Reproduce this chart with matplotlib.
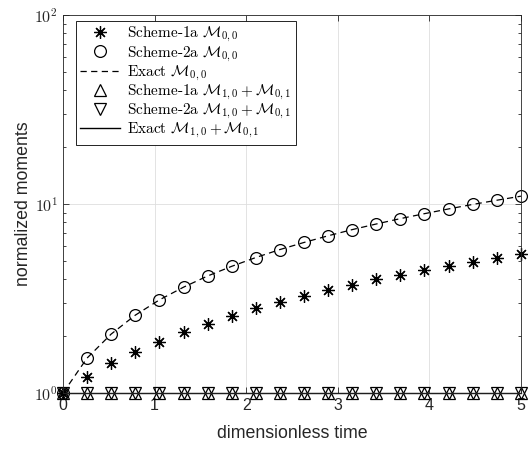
import numpy as np
import matplotlib
matplotlib.use('Agg')
import matplotlib.pyplot as plt
from matplotlib.ticker import FixedLocator, FixedFormatter, LogLocator, NullFormatter

plt.rcParams['mathtext.fontset'] = 'cm'
plt.rcParams['font.family'] = ['Liberation Sans', 'DejaVu Sans']

# sample times (20 points from 0 to 5)
t = [0.000, 0.263, 0.526, 0.789, 1.053, 1.316, 1.579, 1.842, 2.105, 2.368,
     2.632, 2.895, 3.158, 3.421, 3.684, 3.947, 4.211, 4.474, 4.737, 5.000]

# zeroth moment
m00_scheme1a = [1.00, 1.21, 1.44, 1.65, 1.87, 2.11, 2.33, 2.55, 2.81, 3.04,
                3.27, 3.52, 3.73, 4.01, 4.22, 4.48, 4.70, 4.95, 5.20, 5.47]
m00_scheme2a = [1.00, 1.53, 2.05, 2.58, 3.11, 3.63, 4.16, 4.68, 5.21, 5.74,
                6.26, 6.79, 7.32, 7.84, 8.37, 8.89, 9.42, 9.95, 10.47, 11.00]
m00_exact = [1.00, 1.53, 2.05, 2.58, 3.11, 3.63, 4.16, 4.68, 5.21, 5.74,
             6.26, 6.79, 7.32, 7.84, 8.37, 8.89, 9.42, 9.95, 10.47, 11.00]

# first moments (sum), conserved
m1_scheme1a = [1.0] * 20
m1_scheme2a = [1.0] * 20
m1_exact = [1.0] * 20

xticks = [0, 1, 2, 3, 4, 5]
yticks = [1, 10, 100]
ytick_labels = [r'$\mathsf{10^{0}}$', r'$\mathsf{10^{1}}$', r'$\mathsf{10^{2}}$']

axcol = '#262626'

fig = plt.figure(figsize=(5.31, 4.51), dpi=100)
ax = fig.add_axes([0.1186, 0.1286, 0.8624, 0.8381])

ax.plot(t, m00_scheme1a, linestyle='none', marker=(8, 2, 0), markersize=9,
        markeredgewidth=0.9, color='k', clip_on=False,
        label=r'Scheme-1a $\mathcal{M}_{0,0}$')
ax.plot(t, m00_scheme2a, linestyle='none', marker='o', markersize=8.5,
        markeredgewidth=0.9, markerfacecolor='none', color='k', clip_on=False,
        label=r'Scheme-2a $\mathcal{M}_{0,0}$')
ax.plot(t, m00_exact, linestyle='--', dashes=(5, 3.5), linewidth=0.9, color='k',
        label=r'Exact $\mathcal{M}_{0,0}$')
ax.plot(t, m1_scheme1a, linestyle='none', marker='^', markersize=9,
        markeredgewidth=0.9, markerfacecolor='none', color='k', clip_on=False,
        label=r'Scheme-1a $\mathcal{M}_{1,0}+\mathcal{M}_{0,1}$')
ax.plot(t, m1_scheme2a, linestyle='none', marker='v', markersize=9,
        markeredgewidth=0.9, markerfacecolor='none', color='k', clip_on=False,
        label=r'Scheme-2a $\mathcal{M}_{1,0}+\mathcal{M}_{0,1}$')
ax.plot(t, m1_exact, linestyle='-', linewidth=1.0, color='k', clip_on=False,
        label=r'Exact $\mathcal{M}_{1,0}+\mathcal{M}_{0,1}$')

ax.set_yscale('log')
ax.set_xlim(0, 5)
ax.set_ylim(1, 100)
ax.xaxis.set_major_locator(FixedLocator(xticks))
ax.yaxis.set_major_locator(FixedLocator(yticks))
ax.yaxis.set_major_formatter(FixedFormatter(ytick_labels))
ax.yaxis.set_minor_locator(LogLocator(base=10, subs=np.arange(2, 10)))
ax.yaxis.set_minor_formatter(NullFormatter())

ax.grid(True, which='major', color='#dedede', linewidth=0.6)
ax.tick_params(which='both', direction='in', top=True, right=True,
               colors=axcol, labelcolor=axcol, labelsize=11.5, width=0.6)
ax.tick_params(which='major', length=4)
ax.tick_params(which='minor', length=2.5)
for s in ax.spines.values():
    s.set_color(axcol)
    s.set_linewidth(0.6)

ax.set_xlabel('dimensionless time', fontsize=12.8, color=axcol, labelpad=9)
ax.set_ylabel('normalized moments', fontsize=12.8, color=axcol, labelpad=2)

leg = ax.legend(loc='upper left', bbox_to_anchor=(0.028, 0.985), fancybox=False,
                framealpha=1, edgecolor='k', handlelength=2.6, handletextpad=0.45,
                labelspacing=0.0, borderpad=0.3, borderaxespad=0,
                prop={'family': 'cmr10', 'size': 11})
leg.get_frame().set_linewidth(0.6)

plt.savefig('out.png', dpi=100)
